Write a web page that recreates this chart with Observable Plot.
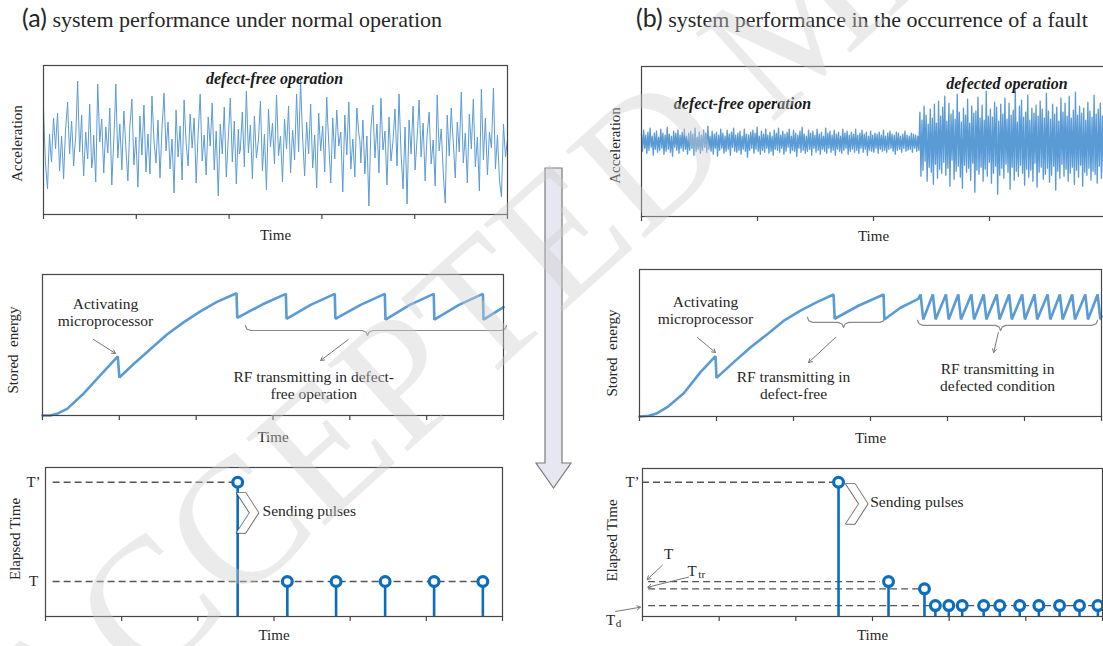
<!DOCTYPE html>
<html>
<head>
<meta charset="utf-8">
<script src="https://cdn.jsdelivr.net/npm/d3@7"></script>
<script src="https://cdn.jsdelivr.net/npm/@observablehq/plot@0.6"></script>
<style>
  body { margin: 0; background: #fff; }
  #root { position: relative; width: 1103px; height: 646px; overflow: hidden; background: #fff;
          font-family: "Liberation Serif", "Times New Roman", serif; color: #262626; }
  .title { position: absolute; top: 2px; font-size: 22px; line-height: 30px; white-space: nowrap; color: #262626; }
  .title .lab { font-family: Lato, "Open Sans", sans-serif; font-size: 25px; }
</style>
</head>
<body>
<div id="root">
  <div class="title" style="left:22px"><span class="lab">(a)</span> system performance under normal operation</div>
  <div class="title" style="left:636px"><span class="lab">(b)</span> system performance in the occurrence of a fault</div>
</div>
<script>
// ---------------- data ----------------
// (a) acceleration, defect-free operation: main samples
const accA = [
3.5,-2.0,-4.5,1.0,-1.8,2.6,-0.5,3.1,-2.7,0.8,-3.5,1.5,4.2,-1.0,2.3,-2.2,0.6,6.3,-0.8,2.9,
-3.2,1.2,-1.5,4.0,-2.4,0.9,-3.8,6.0,0.2,2.5,-2.9,1.7,-0.9,3.6,-4.1,0.4,6.0,-1.4,2.0,-2.6,
3.3,-0.3,-3.7,1.9,4.5,-2.1,0.7,-4.3,2.8,-1.1,3.9,-2.8,1.0,-3.0,4.8,0.3,-1.9,2.4,-3.4,1.6,
5.1,-0.7,2.2,-2.5,0.5,-4.9,3.4,-1.3,1.8,-3.6,4.4,0.1,-2.2,3.0,-0.4,2.6,-3.9,1.1,5.0,-1.7,
0.9,-3.1,2.7,-0.2,4.1,-2.6,1.3,-5.2,2.0,-1.0,3.7,-3.3,0.6,4.6,-1.8,2.3,-4.0,1.5,-0.6,3.2,
-2.3,5.3,-0.9,1.9,-3.5,2.8,-1.4,0.4,4.3,-2.7,1.0,-4.6,3.5,-0.3,2.1,-2.0,4.9,-1.2,0.8,-3.8,
2.5,-0.5,3.8,-2.9,1.4,-1.6,5.0,-0.8,6.4,0.7,-3.2,2.2,-1.0,4.0,-2.4,0.9,-4.4,3.1,-0.7,1.8,
-2.8,4.7,0.2,-3.9,2.6,-1.5,3.4,-0.2,1.2,-4.8,2.9,-1.1,4.2,-2.5,0.5,-3.3,3.6,1.0,-1.9,2.4,
-3.0,0.8,-6.2,1.6,3.9,-1.4,2.0,-2.9,4.6,-0.6,1.3,-4.1,2.7,-1.7,0.3,3.5,-2.2,5.0,-0.9,-4.5,
1.7,-6.0,2.4,-1.0,3.8,-2.6,0.6,4.4,-1.3,2.1,-3.7,1.0,3.2,-2.0,0.4,-4.2,4.9,-0.7,1.5,-2.8,
-5.9,2.9,-1.2,3.6,0.2,-3.4,2.2,-0.8,5.2,-1.9,1.1,-3.9,3.0,-0.5,4.5,-2.3,0.7,-4.7,5.5,-1.6,
2.6,-3.1,1.2,-0.4,5.6,-2.5,0.9,-3.6,-5.3,2.0,-1.3,0.5
];
// (a) acceleration: in-between samples (one between each pair of main samples)
const accAmid = [
0.5,-3.2,-1.5,-0.6,0.6,1.1,1.5,0.2,-1.0,-1.2,-0.8,2.8,1.4,0.7,0.1,-0.5,3.4,2.5,1.0,-0.9,
-1.0,-0.3,1.3,0.8,-1.6,-1.5,1.0,3.1,1.4,-0.4,-0.6,0.4,1.3,-0.2,-1.8,2.9,2.2,0.3,-0.2,0.4,
1.5,-2.0,-0.9,3.0,1.2,-0.7,-1.8,-0.8,0.9,1.4,0.6,-0.9,-1.0,0.9,2.6,-0.8,0.2,-0.5,-0.9,3.3,
2.2,0.8,-0.1,-1.0,-2.2,-0.7,1.0,0.2,-0.9,0.4,2.2,-1.0,0.4,1.3,1.1,-0.6,-1.4,3.0,1.6,-0.4,
-1.1,-0.2,1.2,2.0,0.9,-0.6,-2.0,-1.6,0.5,1.3,0.2,-1.4,2.6,1.4,0.2,-0.8,-1.2,-1.0,1.3,0.4,
1.5,2.2,0.5,-0.8,-0.4,0.7,-0.5,2.3,0.8,-0.9,-1.8,-0.6,1.6,0.9,-0.1,1.4,2.2,-0.2,-1.5,-0.7,
1.0,1.6,0.4,-0.7,0.1,1.7,2.1,2.8,3.3,-1.2,-0.5,0.6,1.5,0.8,-0.9,-1.7,-0.6,1.1,0.6,-0.5,
1.0,2.2,-1.8,-0.7,0.6,1.0,1.5,0.5,-1.8,-1.0,0.9,1.6,0.8,-1.0,-1.4,0.2,2.3,0.4,0.2,-0.3,
-1.1,-2.7,-2.3,2.8,1.2,0.3,-0.4,0.8,2.0,0.3,-1.4,-0.7,0.5,-0.7,1.9,0.7,1.4,2.0,-2.7,-1.4,
-2.2,-1.8,0.7,1.4,0.6,-1.0,2.5,1.6,0.4,-0.8,-1.2,2.1,0.6,-0.8,-1.9,0.3,2.0,0.4,-0.6,-4.4,
-1.5,0.8,1.2,1.7,-1.6,-0.6,0.7,2.2,1.6,-0.4,-1.4,-0.4,1.3,2.0,1.0,-0.8,-2.0,0.4,2.0,0.5,
-0.2,-1.0,0.4,2.6,1.5,-0.8,-1.3,-4.5,-1.6,0.3,-0.4
];
// (b) acceleration, defect-free part
const accB1 = [
0.8,-0.9,1.2,-0.6,0.7,-1.1,1.0,-0.8,1.4,-0.5,0.6,-1.3,0.9,-0.7,1.1,-1.0,0.5,-0.8,1.3,-0.6,
0.9,-1.2,0.7,-0.9,1.5,-0.7,0.8,-1.0,0.6,-1.4,1.1,-0.5,0.9,-0.8,1.2,-1.1,0.7,-0.6,1.0,-0.9,
1.3,-0.7,0.6,-1.2,0.9,-0.8,1.1,-0.6,0.8,-1.3,1.4,-0.9,0.5,-0.7,1.0,-1.1,0.7,-0.8,1.2,-0.5,
0.9,-1.0,1.6,-0.7,0.6,-0.9,1.1,-1.2,0.8,-0.6,1.0,-1.4,0.7,-0.8,1.3,-0.6,0.9,-1.1,0.6,-0.9,
1.2,-0.7,0.8,-1.3,1.0,-0.5,1.4,-0.9,0.7,-1.0,0.9,-0.8,1.1,-1.2,0.6,-0.7,1.3,-0.9,0.8,-1.5,
0.7,-0.8,1.0,-0.6,1.2,-1.1,0.9,-0.7,1.5,-0.9,0.6,-1.2,1.1,-0.8,0.8,-1.0,1.3,-0.6,0.7,-1.1,
1.0,-0.9,0.6,-1.3,1.2,-0.7,0.9,-0.8,1.4,-1.0,0.7,-0.6,1.1,-1.2,0.8,-0.9,1.0,-0.5,1.3,-1.1,
0.6,-0.8,1.2,-0.9,0.9,-1.4,0.7,-0.6,1.1,-1.0,1.5,-0.8,0.8,-1.1,0.6,-0.9,1.2,-0.7,0.9,-1.3,
1.1,-0.6,0.7,-1.0,1.3,-0.8,0.8,-1.2,1.0,-0.7,0.6,-0.9,1.4,-1.1,0.9,-0.6,1.1,-1.0,0.7,-0.8,
1.2,-1.3,0.8,-0.7,1.0,-0.9,0.6,-1.1,1.3,-0.8,0.9,-0.6,1.1,-1.2,0.7,-0.9,1.0,-0.7,0.8,-1.0,
1.3,-0.8,0.7,-1.1,0.9,-0.6,1.2,-1.0,0.8,-0.7,1.0,-1.3,0.6,-0.8,1.1,-0.9,0.7,-1.0,0.9,-0.6,
0.8,-1.1,1.0,-0.7,0.7,-0.9,1.2,-0.8,0.6,-1.0,0.9,-0.7,1.1,-0.6,0.8,-0.9,0.7,-1.2,1.0,-0.8,
0.9,-0.7,0.6,-1.0,0.8,-0.6,1.1,-0.9,0.7,-0.8,0.6,-0.7,0.9,-1.0,0.8,-0.6,0.7,-0.9,0.6,-0.8
];
// (b) acceleration, defected part
const accB2 = [
3.0,-3.4,2.2,-2.8,3.6,-1.9,2.7,-3.9,1.8,-2.5,3.3,-3.0,2.4,-4.2,3.8,-2.2,1.9,-3.6,4.1,-2.7,
2.6,-3.1,3.5,-2.0,4.6,-3.3,2.1,-2.6,3.9,-4.4,2.8,-1.8,3.2,-3.7,2.3,-2.9,4.8,-2.4,3.0,-3.5,
2.0,-4.6,3.4,-2.3,2.7,-3.0,4.3,-2.6,1.9,-3.8,3.6,-2.1,2.9,-5.0,3.1,-2.8,4.5,-3.2,2.4,-2.5,
3.7,-3.9,2.2,-2.7,5.1,-3.4,2.6,-2.0,3.3,-4.1,2.5,-3.1,4.0,-2.4,3.5,-5.2,2.1,-3.3,3.8,-2.6,
2.8,-3.6,4.4,-2.2,2.3,-3.0,3.9,-4.7,2.7,-2.5,3.2,-3.8,5.3,-2.9,2.0,-3.4,3.6,-2.3,4.2,-3.1,
2.5,-4.3,3.0,-2.7,4.7,-3.5,2.2,-2.8,3.4,-3.9,2.9,-2.1,3.7,-4.5,2.6,-3.0,4.1,-2.5,3.3,-3.7,
2.4,-3.2,4.9,-2.6,3.1,-4.0,2.3,-3.3,3.8,-2.4,2.8,-4.8,3.5,-2.9,2.1,-3.6,4.4,-2.2,3.0,-3.4,
3.9,-2.7,2.6,-3.9,4.6,-3.1,2.4,-2.5,3.2,-4.2,5.0,-2.8,2.7,-3.5,3.6,-2.3,2.9,-4.4,3.4,-3.0,
2.2,-3.3,4.0,-2.6,3.1,-3.8,2.5,-2.9,4.7,-3.2,2.8,-4.1,3.3,-2.4,3.9,-3.6,2.6,-3.0,3.5,-2.7
];
const faultTime = 2.40;

// stored energy
const energyAt = [0,0.10,0.20,0.32,0.54,0.76,0.98,1.0,1.19,1.41,1.62,1.84,2.06,2.27,2.525,2.535,2.86,3.167,3.176,3.49,3.804,3.812,4.14,4.455,4.464,4.78,5.092,5.10,5.42,5.732,5.74,6.0];
const energyAv = [0,0,0.015,0.047,0.158,0.29,0.42,0.27,0.367,0.473,0.574,0.662,0.74,0.806,0.867,0.693,0.787,0.863,0.686,0.785,0.863,0.686,0.785,0.863,0.68,0.785,0.863,0.68,0.785,0.863,0.68,0.768];
const energyBt = [0,0.12,0.22,0.36,0.575,0.79,0.987,1.0,1.225,1.44,1.66,1.87,2.09,2.31,2.52,2.535,2.85,3.17,3.18,3.39,3.62,
  3.65,3.685,3.81,3.845,3.98,4.015,4.14,4.175,4.31,4.345,4.47,4.505,4.64,4.675,4.80,4.835,4.97,5.005,5.13,5.165,5.30,5.335,5.46,5.495,5.62,5.655,5.79,5.825,5.95,5.985,6.0];
const energyBv = [0,0.005,0.02,0.063,0.158,0.30,0.41,0.263,0.37,0.47,0.56,0.65,0.72,0.78,0.83,0.665,0.755,0.83,0.66,0.74,0.80,
  0.83,0.66,0.83,0.66,0.83,0.66,0.83,0.66,0.83,0.66,0.83,0.66,0.83,0.66,0.83,0.66,0.83,0.66,0.83,0.66,0.83,0.66,0.83,0.66,0.83,0.66,0.83,0.66,0.83,0.66,0.68];

// elapsed time between pulses
const pulseAt = [2.523,3.175,3.815,4.459,5.102,5.742];
const pulseAv = [0.901,0.235,0.235,0.235,0.235,0.235];
const pulseBt = [2.557,3.209,3.678,3.82,3.995,4.17,4.45,4.66,4.92,5.17,5.44,5.70,5.94];
const pulseBv = [0.907,0.236,0.187,0.074,0.074,0.074,0.074,0.074,0.074,0.074,0.074,0.074,0.074];
const levelNamesA = ["T’","T"];
const levelValuesA = [0.901,0.235];
const levelNamesB = ["T’","T","Ttr","Td"];
const levelValuesB = [0.907,0.236,0.187,0.074];

// ---------------- drawing ----------------
const root = document.getElementById("root");
const BLUE = "#5b9bd5", STEM = "#0b6dbd", FRAME = "#454545", DASH = "#555", TXT = "#262626", ARW = "#777";
const SERIF = "Liberation Serif, Times New Roman, serif";
const M = {l: 55, r: 12, t: 12, b: 34};

function panel({left, top, w, h, xDomain, yDomain, nTicks, ylabel, ylDx, ylDy, timeDy, marks}) {
  const p = Plot.plot({
    width: w + M.l + M.r, height: h + M.t + M.b,
    marginLeft: M.l, marginRight: M.r, marginTop: M.t, marginBottom: M.b,
    x: {domain: xDomain, label: null},
    y: {domain: yDomain, axis: null, label: null},
    style: {background: "transparent", overflow: "visible", fontFamily: SERIF, color: TXT},
    marks: [
      ...marks,
      Plot.frame({stroke: FRAME, strokeWidth: 1.2}),
      Plot.axisX(d3.range(nTicks + 1), {tickSize: 5, tickFormat: () => "", stroke: FRAME, strokeWidth: 1.2, label: null}),
      Plot.text(["Time"], {frameAnchor: "bottom", lineAnchor: "middle", dy: timeDy, fontSize: 15, fill: TXT}),
      Plot.text([ylabel], {frameAnchor: "left", rotate: -90, lineAnchor: "middle", textAnchor: "middle", dx: ylDx, dy: ylDy, fontSize: 15, fill: TXT})
    ]
  });
  p.style.position = "absolute";
  p.style.left = (left - M.l) + "px";
  p.style.top = (top - M.t) + "px";
  root.appendChild(p);
}

function brace(x1, xm, x2, y, h) {
  return [
    {x: x1, y: y + h}, {x: x1 + 0.02, y: y + h * 0.3}, {x: x1 + 0.07, y},
    {x: xm - 0.07, y}, {x: xm - 0.02, y: y - h * 0.3}, {x: xm, y: y - h},
    {x: xm + 0.02, y: y - h * 0.3}, {x: xm + 0.07, y},
    {x: x2 - 0.07, y}, {x: x2 - 0.02, y: y + h * 0.3}, {x: x2, y: y + h}
  ];
}
const ann = (t, o) => Plot.text([t], {fontSize: 15.5, fill: TXT, lineHeight: 1.1, ...o});
const boldAnn = (t, o) => Plot.text([t], {fontSize: 16, fontWeight: "bold", fontStyle: "italic", fill: "#1a1a1a", ...o});
const arrow = (x1, y1, x2, y2) => Plot.arrow([0], {x1: () => x1, y1: () => y1, x2: () => x2, y2: () => y2, stroke: ARW, strokeWidth: 1, headLength: 6});

// ---- (a) acceleration
const stepA = 5 / (accA.length - 1);
const seriesA1 = [];
accA.forEach((v, i) => {
  seriesA1.push({t: i * stepA, v});
  if (i < accAmid.length) seriesA1.push({t: (i + 0.5) * stepA, v: accAmid[i]});
});
panel({left: 43, top: 65, w: 464, h: 149, xDomain: [0, 5], yDomain: [-7.05, 7.85], nTicks: 5,
  ylabel: "Acceleration", ylDx: -26, ylDy: 3.5, timeDy: 21,
  marks: [
    Plot.line(seriesA1, {x: "t", y: "v", stroke: BLUE, strokeWidth: 1}),
    boldAnn("defect-free operation", {x: 2.49, y: 6.55})
  ]});

// ---- (b) acceleration
const seriesB1 = [
  ...accB1.map((v, i) => ({t: i * faultTime / accB1.length, v})),
  ...accB2.map((v, i) => ({t: faultTime + i * (4 - faultTime) / (accB2.length - 1), v}))
];
panel({left: 641, top: 66, w: 464, h: 150, xDomain: [0, 4], yDomain: [-7.43, 7.57], nTicks: 4,
  ylabel: "Acceleration", ylDx: -26, ylDy: 4, timeDy: 20,
  marks: [
    Plot.line(seriesB1, {x: "t", y: "v", stroke: BLUE, strokeWidth: 1.35}),
    boldAnn("defect-free operation", {x: 0.87, y: 3.87}),
    boldAnn("defected operation", {x: 3.15, y: 5.87})
  ]});

// ---- (a) stored energy
const seriesA2 = energyAt.map((t, i) => ({t, v: energyAv[i]}));
panel({left: 42, top: 274, w: 461, h: 141, xDomain: [0, 6], yDomain: [0, 1], nTicks: 6,
  ylabel: "Stored\u00a0\u00a0energy", ylDx: -29, ylDy: 5, timeDy: 22,
  marks: [
    Plot.line(brace(2.64, 4.23, 6.04, 0.603, 0.035), {x: "x", y: "y", stroke: "#8a8a8a", strokeWidth: 1.2}),
    Plot.line(seriesA2, {x: "t", y: "v", stroke: BLUE, strokeWidth: 2.6, strokeLinejoin: "miter"}),
    ann("Activating\nmicroprocessor", {x: 0.82, y: 0.734}),
    arrow(0.664, 0.539, 0.95, 0.44),
    arrow(3.98, 0.539, 3.62, 0.39),
    ann("RF transmitting in defect-\nfree operation", {x: 3.53, y: 0.213})
  ]});

// ---- (b) stored energy
const seriesB2 = energyBt.map((t, i) => ({t, v: energyBv[i]}));
panel({left: 639, top: 269, w: 462, h: 147, xDomain: [0, 6], yDomain: [0, 1], nTicks: 6,
  ylabel: "Stored\u00a0\u00a0energy", ylDx: -27, ylDy: 10, timeDy: 22,
  marks: [
    Plot.line(brace(2.18, 2.65, 3.19, 0.64, 0.035), {x: "x", y: "y", stroke: "#8a8a8a", strokeWidth: 1.2}),
    Plot.line(brace(3.61, 4.69, 5.95, 0.62, 0.035), {x: "x", y: "y", stroke: "#8a8a8a", strokeWidth: 1.2}),
    Plot.line(seriesB2, {x: "t", y: "v", stroke: BLUE, strokeWidth: 2.6, strokeLinejoin: "miter"}),
    ann("Activating\nmicroprocessor", {x: 0.857, y: 0.721}),
    arrow(0.753, 0.537, 0.987, 0.435),
    arrow(2.545, 0.537, 2.195, 0.367),
    ann("RF transmitting in\ndefect-free", {x: 2.0, y: 0.211}),
    arrow(4.66, 0.571, 4.6, 0.435),
    ann("RF transmitting in\ndefected condition", {x: 4.65, y: 0.269})
  ]});

// ---- (a) elapsed time
const pulsesA = pulseAt.map((t, i) => ({t, v: pulseAv[i]}));
const dashA = [
  {y: levelValuesA[0], x1: 0.1, x2: pulseAt[0]},
  {y: levelValuesA[1], x1: 0.1, x2: 5.85}
];
const levA = levelNamesA.map((n, i) => ({n, v: levelValuesA[i]}));
panel({left: 45, top: 467, w: 457, h: 149, xDomain: [0, 6], yDomain: [0, 1], nTicks: 6,
  ylabel: "Elapsed Time", ylDx: -30, ylDy: -3, timeDy: 19,
  marks: [
    Plot.ruleY(dashA, {y: "y", x1: "x1", x2: "x2", stroke: DASH, strokeWidth: 1.3, strokeDasharray: "7,4"}),
    Plot.ruleX(pulsesA, {x: "t", y1: 0, y2: "v", stroke: STEM, strokeWidth: 2.6}),
    Plot.dot(pulsesA, {x: "t", y: "v", r: 4.9, stroke: STEM, strokeWidth: 3.2, fill: "white"}),
    Plot.text(levA, {x: 0, y: "v", text: "n", dx: -12, fontSize: 15, fill: TXT}),
    Plot.text(["❯"], {x: 2.65, y: 0.711, fontFamily: "DejaVu Sans", fontSize: 40, fill: "white", stroke: "#333", strokeWidth: 1.4}),
    ann("Sending pulses", {x: 2.85, y: 0.711, textAnchor: "start"})
  ]});

// ---- (b) elapsed time
const pulsesB = pulseBt.map((t, i) => ({t, v: pulseBv[i]}));
const dashB = [
  {y: levelValuesB[0], x1: 0, x2: pulseBt[0]},
  {y: levelValuesB[1], x1: 0.08, x2: 3.10},
  {y: levelValuesB[2], x1: 0.08, x2: 3.63},
  {y: levelValuesB[3], x1: 0.08, x2: 6}
];
panel({left: 642, top: 468, w: 460, h: 148, xDomain: [0, 6], yDomain: [0, 1], nTicks: 6,
  ylabel: "Elapsed Time", ylDx: -30, ylDy: -2, timeDy: 19,
  marks: [
    Plot.ruleY(dashB, {y: "y", x1: "x1", x2: "x2", stroke: DASH, strokeWidth: 1.3, strokeDasharray: "7,4"}),
    Plot.ruleX(pulsesB, {x: "t", y1: 0, y2: "v", stroke: STEM, strokeWidth: 2.6}),
    Plot.dot(pulsesB, {x: "t", y: "v", r: 4.9, stroke: STEM, strokeWidth: 3.2, fill: "white"}),
    Plot.text([levelNamesB[0]], {x: 0, y: levelValuesB[0], dx: -10, fontSize: 15, fill: TXT}),
    ann("T", {x: 0.339, y: 0.426, fontSize: 15}),
    arrow(0.257, 0.345, 0.061, 0.25),
    ann("T", {x: 0.648, y: 0.311, fontSize: 15}),
    ann("tr", {x: 0.648, y: 0.311, dx: 9.5, dy: 4, fontSize: 11}),
    arrow(0.60, 0.266, 0.07, 0.198),
    ann("T", {x: -0.417, y: -0.02, fontSize: 15}),
    ann("d", {x: -0.417, y: -0.02, dx: 8, dy: 4, fontSize: 11}),
    arrow(-0.352, 0.034, -0.026, 0.063),
    Plot.text(["❯"], {x: 2.79, y: 0.777, fontFamily: "DejaVu Sans", fontSize: 40, fill: "white", stroke: "#333", strokeWidth: 1.4}),
    ann("Sending pulses", {x: 2.97, y: 0.777, textAnchor: "start"})
  ]});

// ---- big downward arrow between the columns, and the manuscript watermark
const NS = "http://www.w3.org/2000/svg";
const deco = document.createElementNS(NS, "svg");
deco.setAttribute("width", 1103); deco.setAttribute("height", 646);
deco.style.cssText = "position:absolute;left:0;top:0;pointer-events:none";
deco.innerHTML = `
  <path d="M545,168 H562 V463 H571 L553.5,488 L536,463 H545 Z" fill="#e7e7f1" stroke="#7a7a7a" stroke-width="1.2"/>
  <text x="46" y="777" transform="rotate(-42 46 777)" font-family="Liberation Serif" font-size="180"
        fill="rgb(205,205,205)" fill-opacity="0.4">ACCEPTED MANUSCRIPT</text>`;
root.appendChild(deco);
</script>
</body>
</html>
